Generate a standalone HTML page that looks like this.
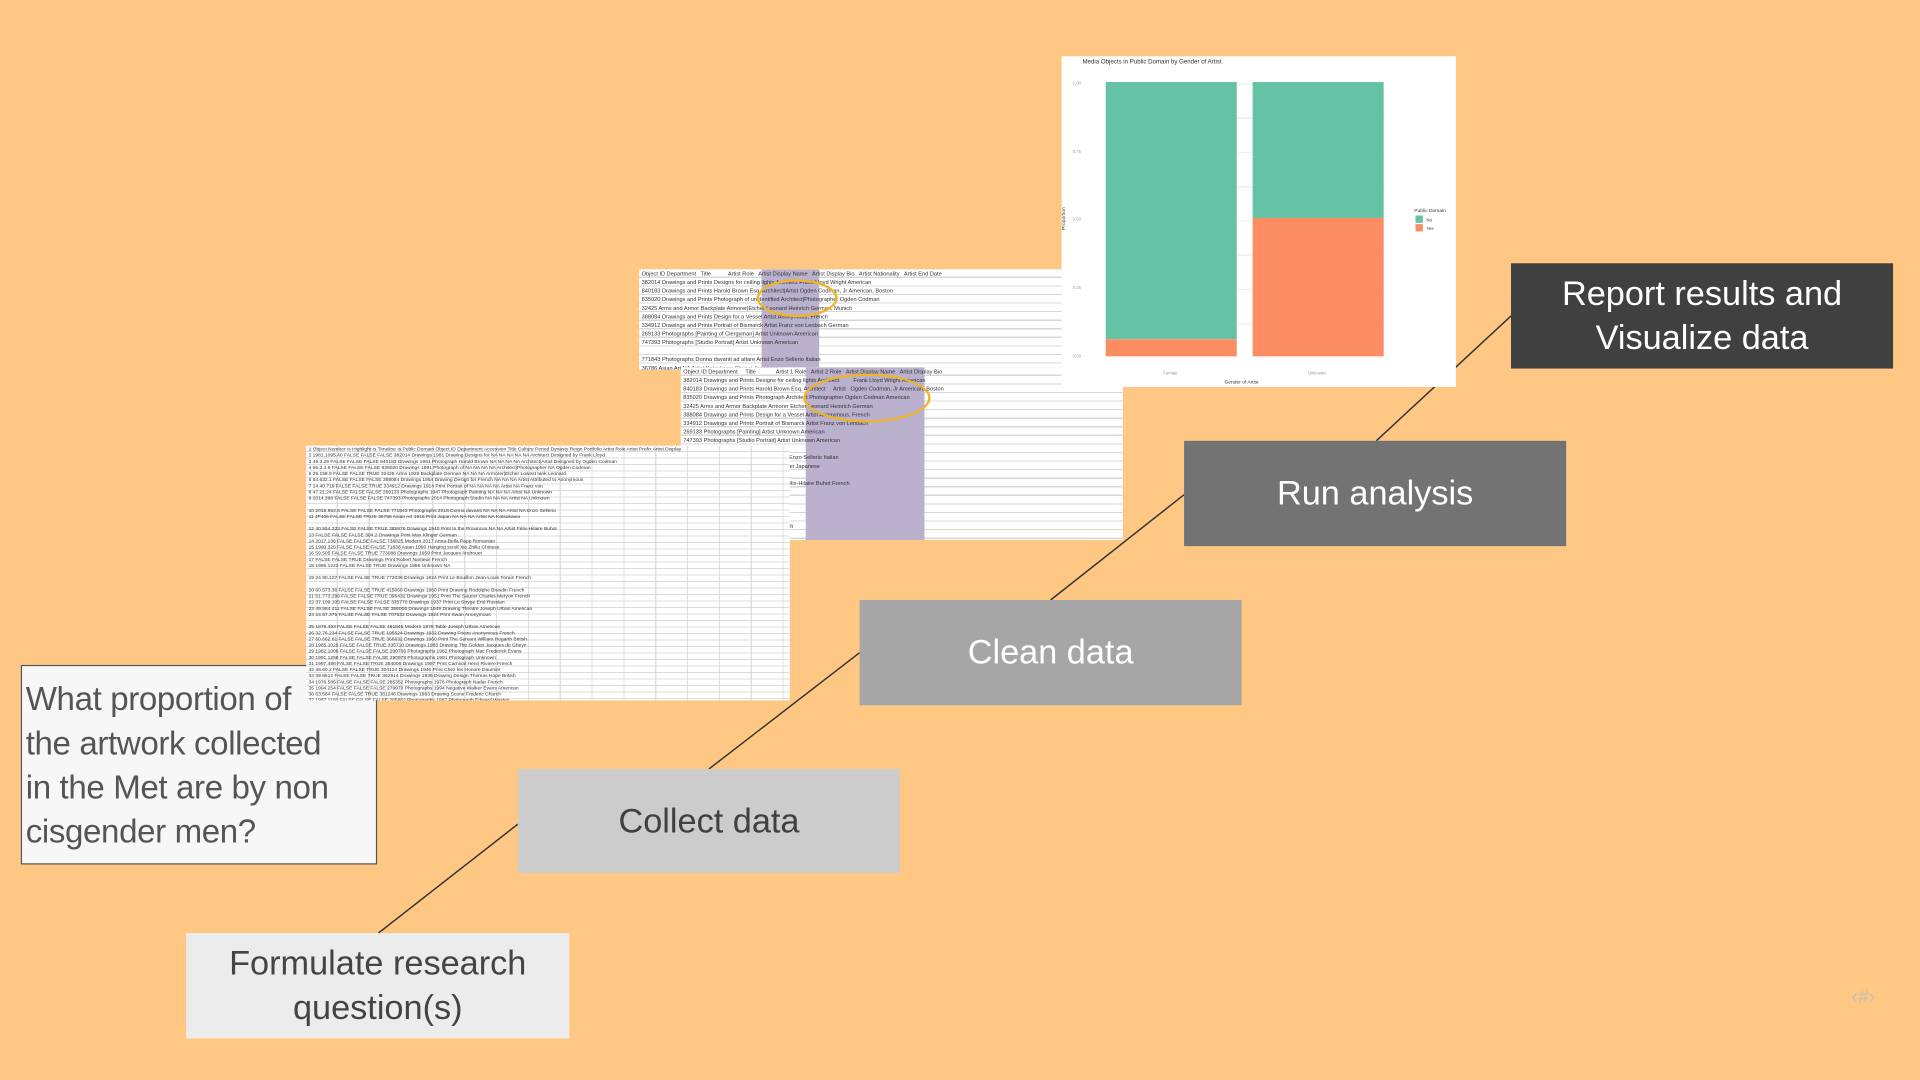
<!DOCTYPE html>
<html><head><meta charset="utf-8"><style>
html,body{margin:0;padding:0;width:1920px;height:1080px;overflow:hidden;background:#fec884;}
#s{position:absolute;left:0;top:0;width:1568px;height:882px;transform:scale(1.2244898);transform-origin:0 0;font-family:"Liberation Sans",sans-serif;}
.b{position:absolute;display:flex;align-items:center;justify-content:center;text-align:center;font-size:28px;line-height:36px;}
.sh{position:absolute;z-index:2;background:#fff;overflow:hidden;font-size:4.6px;line-height:7px;color:#333;white-space:nowrap;
background-image:repeating-linear-gradient(to bottom,transparent 0 6px,#d8d8d8 6px 7px);}
.band{position:absolute;top:0;bottom:0;background:#b9b1cd;}
.ell{position:absolute;border:2px solid #f0b42a;border-radius:50%;}
svg{position:absolute;left:0;top:0;}
</style></head><body><div id="s">
<svg width="1568" height="882"><g stroke="#333" stroke-width="1.2">
<line x1="309" y1="762" x2="423" y2="673"/><line x1="579" y1="628" x2="702" y2="533"/>
<line x1="858" y1="490" x2="967" y2="404"/><line x1="1124" y1="360" x2="1234" y2="258"/></g></svg>

<div class="b" style="z-index:1;left:17px;top:543px;width:291px;height:163px;background:#f7f7f7;border:1px solid #555;justify-content:flex-start;text-align:left;color:#555;box-sizing:border-box;padding-left:3px;font-size:27px;letter-spacing:-0.3px;white-space:nowrap;">What proportion of<br>the artwork collected<br>in the Met are by non<br>cisgender men?</div>

<div class="sh" style="left:522px;top:220px;width:345px;height:82px;">
<div class="band" style="left:100px;width:47px;"></div>
<div style="position:relative;padding-left:2px;">Object ID Department &nbsp; Title &nbsp; &nbsp; &nbsp; &nbsp; &nbsp; Artist Role &nbsp; Artist Display Name &nbsp; Artist Display Bio &nbsp; Artist Nationality &nbsp; Artist End Date<br>382014 Drawings and Prints Designs for ceiling lights Architect Frank Lloyd Wright American<br>840183 Drawings and Prints Harold Brown Esq. Architect|Artist Ogden Codman, Jr American, Boston<br>835020 Drawings and Prints Photograph of unidentified Architect|Photographer Ogden Codman<br>32425 Arms and Armor Backplate Armorer|Etcher Leonard Heinrich German, Munich<br>388084 Drawings and Prints Design for a Vessel Artist Anonymous, French<br>334912 Drawings and Prints Portrait of Bismarck Artist Franz von Lenbach German<br>269133 Photographs [Painting of Clergyman] Artist Unknown American<br>747393 Photographs [Studio Portrait] Artist Unknown American<br><br>771843 Photographs Donna davanti ad altare Artist Enzo Sellerio Italian<br>36786 Asian Art NA Artist Katsukawa Shunei Japanese</div>
<div class="ell" style="left:96px;top:8px;width:62px;height:27px;"></div></div>

<div class="sh" style="left:556px;top:300px;width:361px;height:141px;">
<div class="band" style="left:102px;width:97px;"></div>
<div style="position:relative;padding-left:2px;">Object ID Department &nbsp; &nbsp; Title &nbsp; &nbsp; &nbsp; &nbsp; &nbsp; &nbsp; Artist 1 Role &nbsp; Artist 2 Role &nbsp; Artist Display Name &nbsp; Artist Display Bio<br>382014 Drawings and Prints Designs for ceiling lights Architect &nbsp; &nbsp; &nbsp; &nbsp; Frank Lloyd Wright American<br>840183 Drawings and Prints Harold Brown Esq. Architect &nbsp; &nbsp; Artist &nbsp; Ogden Codman, Jr American, Boston<br>835020 Drawings and Prints Photograph Architect Photographer Ogden Codman American<br>32425 Arms and Armor Backplate Armorer Etcher Leonard Heinrich German<br>388084 Drawings and Prints Design for a Vessel Artist Anonymous, French<br>334912 Drawings and Prints Portrait of Bismarck Artist Franz von Lenbach<br>269133 Photographs [Painting] Artist Unknown American<br>747393 Photographs [Studio Portrait] Artist Unknown American<br><br>771843 Photographs Donna davanti Artist Enzo Sellerio Italian<br>36786 Asian Art NA Artist Katsukawa Shunei Japanese<br><br>385976 Drawings In the Provinces Artist Félix-Hilaire Buhot French<br><br>Artist Max Klinger German, Leipzig<br>Artist Anna-Bella Papp Romanian<br>Artist Xie Zhiliu Chinese<br>Artist Jacques Androuet Du Cerceau French<br>Artist Robert Nanteuil French</div>
<div class="ell" style="left:100px;top:5px;width:100px;height:36px;"></div></div>

<div class="sh" style="left:250px;top:364px;width:395px;height:208px;font-size:4px;line-height:5px;background-image:repeating-linear-gradient(to bottom,transparent 0 4.5px,#dcdcdc 4.5px 5.3px),repeating-linear-gradient(to right,transparent 0 25px,#e0e0e0 25px 26px);">
<div style="padding-left:2px;">1 Object Number Is Highlight Is Timeline Is Public Domain Object ID Department Accession Title Culture Period Dynasty Reign Portfolio Artist Role Artist Prefix Artist Display<br>2 1981.1095.40 FALSE FALSE FALSE 382014 Drawings 1981 Drawing Designs for NA NA NA NA NA Architect Designed by Frank Lloyd<br>3 49.3.29 FALSE FALSE FALSE 840183 Drawings 1991 Photograph Harold Brown NA NA NA NA Architect|Artist Designed by Ogden Codman<br>4 55.3.4.8 FALSE FALSE FALSE 835020 Drawings 1991 Photograph of NA NA NA NA Architect|Photographer NA Ogden Codman<br>5 29.158.9 FALSE FALSE TRUE 32425 Arms 1929 Backplate German NA NA NA Armorer|Etcher Lowest tank Leonard<br>6 54.632.1 FALSE FALSE FALSE 388084 Drawings 1954 Drawing Design for French NA NA NA Artist Attributed to Anonymous<br>7 14.40.719 FALSE FALSE TRUE 334912 Drawings 1914 Print Portrait of NA NA NA NA Artist NA Franz von<br>8 47.21.24 FALSE FALSE FALSE 269133 Photographs 1947 Photograph Painting NA NA NA Artist NA Unknown<br>9 2014.398 FALSE FALSE FALSE 747393 Photographs 2014 Photograph Studio NA NA NA Artist NA Unknown<br><br>10 2018.552.6 FALSE FALSE FALSE 771843 Photographs 2018 Donna davanti NA NA NA Artist NA Enzo Sellerio<br>11 JP406 FALSE FALSE TRUE 36786 Asian Art 1918 Print Japan NA NA NA Artist NA Katsukawa<br><br>12 40.554.333 FALSE FALSE TRUE 385976 Drawings 1940 Print In the Provinces NA NA Artist Félix-Hilaire Buhot<br>13 FALSE FALSE FALSE 304.2 Drawings Print Max Klinger German<br>14 2017.136 FALSE FALSE FALSE 736825 Modern 2017 Anna-Bella Papp Romanian<br>15 1990.325 FALSE FALSE FALSE 71838 Asian 1990 Hanging scroll Xie Zhiliu Chinese<br>16 59.505 FALSE FALSE TRUE 773088 Drawings 1959 Print Jacques Androuet<br>17 FALSE FALSE TRUE Drawings Print Robert Nanteuil French<br>18 1986.1223 FALSE FALSE TRUE Drawings 1986 Unknown NA<br><br>19 24.90.127 FALSE FALSE TRUE 772036 Drawings 1924 Print Le Bouillon Jean-Louis Forain French<br><br>20 60.573.36 FALSE FALSE TRUE 415060 Drawings 1960 Print Drawing Rodolphe Bresdin French<br>21 51.773.299 FALSE FALSE TRUE 396432 Drawings 1951 Print The Saucer Charles Meryon French<br>22 37.109.105 FALSE FALSE FALSE 335770 Drawings 1937 Print Le Stryge Erté Russian<br>23 49.584.411 FALSE FALSE FALSE 386006 Drawings 1949 Drawing Theatre Joseph Urban American<br>24 24.67.375 FALSE FALSE FALSE 707632 Drawings 1924 Print Swan Anonymous<br><br>25 1978.493 FALSE FALSE FALSE 481846 Modern 1978 Table Joseph Urban American<br>26 32.76.234 FALSE FALSE TRUE 195624 Drawings 1932 Drawing Frieze Anonymous French<br>27 60.662.61 FALSE FALSE TRUE 366632 Drawings 1960 Print The Servant William Hogarth British<br>28 1985.1029 FALSE FALSE TRUE 335710 Drawings 1985 Drawing The Golden Jacques de Gheyn<br>29 1982.1006 FALSE FALSE FALSE 290706 Photographs 1982 Photograph Mac Frederick Evans<br>30 1991.1258 FALSE FALSE FALSE 290978 Photographs 1991 Photograph Unknown<br>31 1997.486 FALSE FALSE TRUE 384006 Drawings 1997 Print Carnival Henri Riviere French<br>32 46.60.2 FALSE FALSE TRUE 304124 Drawings 1946 Print Chez les Honore Daumier<br>33 39.8512 FALSE FALSE TRUE 362914 Drawings 1939 Drawing Design Thomas Hope British<br>34 1976.585 FALSE FALSE FALSE 285352 Photographs 1976 Photograph Nadar French<br>35 1994.254 FALSE FALSE FALSE 279970 Photographs 1994 Negative Walker Evans American<br>36 63.564 FALSE FALSE TRUE 381246 Drawings 1963 Drawing Scene Frederic Church<br>37 1987.1100 FALSE FALSE FALSE 285862 Photographs 1987 Photograph Edward Weston<br>38 60.504 FALSE FALSE FALSE 367214 Drawings 1960 Print Rembrandt Dutch<br>39 1994.258 FALSE FALSE FALSE 279202 Photographs 1994 Negative Walker Evans</div></div>

<div style="position:absolute;z-index:3;left:867px;top:46px;width:322px;height:270px;background:#fff;">
<div style="position:absolute;left:17px;top:2px;font-size:5px;color:#333;">Media Objects in Public Domain by Gender of Artist</div>
<div style="position:absolute;left:36px;top:22px;width:228px;height:224px;background-image:repeating-linear-gradient(to bottom,#eee 0 1px,transparent 1px 28px);"></div>
<div style="position:absolute;left:36px;top:21px;width:107px;height:210px;background:#66c2a5;"></div>
<div style="position:absolute;left:36px;top:231px;width:107px;height:14px;background:#fc8d62;"></div>
<div style="position:absolute;left:156px;top:21px;width:107px;height:111px;background:#66c2a5;"></div>
<div style="position:absolute;left:156px;top:132px;width:107px;height:113px;background:#fc8d62;"></div>
<div style="position:absolute;left:9px;top:20px;font-size:3.5px;color:#999;line-height:4px;">1.00</div>
<div style="position:absolute;left:9px;top:76px;font-size:3.5px;color:#999;">0.75</div>
<div style="position:absolute;left:9px;top:131px;font-size:3.5px;color:#999;">0.50</div>
<div style="position:absolute;left:9px;top:187px;font-size:3.5px;color:#999;">0.25</div>
<div style="position:absolute;left:9px;top:243px;font-size:3.5px;color:#999;">0.00</div>
<div style="position:absolute;left:-8px;top:130px;font-size:4px;color:#333;transform:rotate(-90deg);">Proportion</div>
<div style="position:absolute;left:83px;top:257px;font-size:3.5px;color:#999;">Female</div>
<div style="position:absolute;left:201px;top:257px;font-size:3.5px;color:#999;">Unknown</div>
<div style="position:absolute;left:133px;top:263px;font-size:4px;color:#333;">Gender of Artist</div>
<div style="position:absolute;left:288px;top:123px;font-size:4px;color:#333;">Public Domain</div>
<div style="position:absolute;left:289px;top:130px;width:6px;height:6px;background:#66c2a5;"></div>
<div style="position:absolute;left:289px;top:137px;width:6px;height:6px;background:#fc8d62;"></div>
<div style="position:absolute;left:298px;top:131px;font-size:3.5px;color:#333;line-height:7px;">No<br>Yes</div>
</div>

<div class="b" style="left:152px;top:762px;width:313px;height:86px;background:#ececec;color:#444;">Formulate research<br>question(s)</div>
<div class="b" style="left:423px;top:628px;width:312px;height:85px;background:#cccccc;color:#404040;">Collect data</div>
<div class="b" style="left:702px;top:490px;width:312px;height:86px;background:#a6a6a6;color:#fff;">Clean data</div>
<div class="b" style="left:967px;top:360px;width:312px;height:86px;background:#737373;color:#fff;">Run analysis</div>
<div class="b" style="left:1234px;top:215px;width:312px;height:86px;background:#404040;color:#fff;">Report results and<br>Visualize data</div>
<div style="position:absolute;left:1512px;top:806px;font-size:16px;color:#c9c0b0;">‹#›</div>
</div></body></html>
